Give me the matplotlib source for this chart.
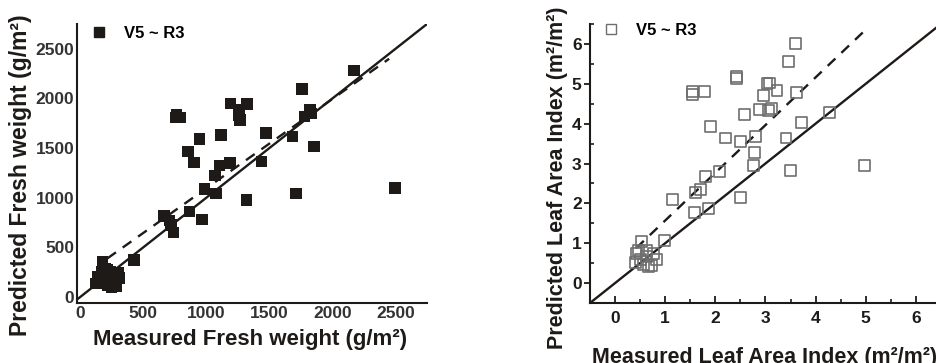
import matplotlib
matplotlib.use("Agg")
import matplotlib.pyplot as plt
import numpy as np
from matplotlib.lines import Line2D

plt.rcParams['font.family'] = ['Liberation Sans', 'DejaVu Sans']
plt.rcParams['font.weight'] = 'bold'

# ---------------- data: fresh weight (g/m2) ----------------
fw_measured = [2497, 2170, 1759, 1712, 1685, 1855, 1777, 1829, 1822, 1475, 1436, 1318,
               1323, 1192, 1260, 1266, 1260, 1187, 1116, 1103, 1069, 1077, 988, 967,
               946, 904, 854, 865, 755, 794, 762, 663, 710, 721, 741, 427,
               178, 126, 218, 150, 170, 190, 200, 210, 220, 230, 240, 250, 260, 270,
               280, 290, 300, 310, 290, 250, 140, 200]
fw_predicted = [1096, 2281, 2097, 1045, 1616, 1515, 1817, 1851, 1885, 1650, 1364, 978,
                1945, 1952, 1885, 1784, 1835, 1348, 1633, 1324, 1223, 1045, 1086, 783,
                1590, 1354, 1465, 860, 1811, 1811, 1834, 817, 769, 726, 648, 373,
                356, 138, 272, 170, 250, 230, 200, 160, 120, 210, 260, 180, 130, 230,
                200, 150, 240, 190, 110, 100, 200, 290]

# ---------------- data: leaf area index (m2/m2) ----------------
lai_measured = [3.59, 3.46, 2.43, 2.43, 1.54, 1.54, 1.78, 3.03, 3.08, 2.97, 3.23, 3.61,
                2.88, 3.06, 3.12, 2.59, 1.90, 3.71, 4.28, 2.20, 2.51, 2.81, 3.41, 2.79,
                2.77, 3.49, 4.98, 2.08, 1.80, 1.71, 1.60, 1.14, 2.50, 1.58, 1.86, 0.98,
                0.53, 0.43, 0.40, 0.63, 0.76, 0.82, 0.73, 0.66, 0.50, 0.56, 0.63, 0.47]
lai_predicted = [6.02, 5.55, 5.14, 5.18, 4.81, 4.74, 4.81, 5.00, 5.02, 4.70, 4.83, 4.78,
                 4.35, 4.32, 4.39, 4.24, 3.93, 4.04, 4.29, 3.64, 3.55, 3.68, 3.64, 3.27,
                 2.95, 2.82, 2.95, 2.81, 2.67, 2.35, 2.27, 2.10, 2.15, 1.78, 1.88, 1.06,
                 1.04, 0.75, 0.52, 0.81, 0.75, 0.60, 0.45, 0.41, 0.60, 0.47, 0.66, 0.82]

legend_label = "V5 ~ R3"

# fitted / reference lines: (slope, intercept, x_start, x_end)
fw_one_to_one = (1.0, 0.0, -60, 2800)
fw_fit = (0.90, 195, 215, 2450)
lai_one_to_one = (1.0, 0.0, -0.6, 7.0)
lai_fit = (1.197, 0.373, 0.42, 5.0)

fw_xticks = [0, 500, 1000, 1500, 2000, 2500]
fw_yticks = [0, 500, 1000, 1500, 2000, 2500]
lai_ticks = [0, 1, 2, 3, 4, 5, 6]

INK = '#1e1a18'
W, H = 936, 363
fig = plt.figure(figsize=(W / 100, H / 100), dpi=100)


def px_rect(l, t, r, b):
    return [l / W, 1 - b / H, (r - l) / W, (b - t) / H]


def line_xy(p):
    s, c, x0, x1 = p
    xs = np.array([x0, x1], dtype=float)
    return xs, s * xs + c


# ---------------- left panel ----------------
ax1 = fig.add_axes(px_rect(77, 24, 427, 303))
ax1.scatter(fw_measured, fw_predicted, marker='s', s=68, color=INK,
            edgecolors='none', zorder=3, label=legend_label)
x, y = line_xy(fw_one_to_one)
ax1.plot(x, y, color=INK, lw=1.7, zorder=2)
x, y = line_xy(fw_fit)
ax1.plot(x, y, color=INK, lw=1.7, ls=(0, (4.5, 3.5)), zorder=2)
ax1.set_xlim(-25, 2750)
ax1.set_ylim(-60, 2750)
ax1.set_xticks(fw_xticks)
ax1.set_yticks(fw_yticks)
ax1.tick_params(length=0, labelsize=12.5, colors='#333333', pad=2)
for s in ['top', 'right']:
    ax1.spines[s].set_visible(False)
for s in ['left', 'bottom']:
    ax1.spines[s].set_linewidth(1.5)
    ax1.spines[s].set_color(INK)
h1 = Line2D([], [], marker='s', ls='none', color=INK, markersize=7)
ax1.legend([h1], [legend_label], loc='upper left', bbox_to_anchor=(-0.018, 1.035),
           frameon=False, fontsize=12, handletextpad=0.5, borderaxespad=0.3)

# ---------------- right panel ----------------
ax2 = fig.add_axes(px_rect(590, 24, 966, 303))
ax2.scatter(lai_measured, lai_predicted, marker='s', s=62, facecolors='none',
            edgecolors='#6e6e6e', linewidths=1.2, zorder=3)
x, y = line_xy(lai_one_to_one)
ax2.plot(x, y, color=INK, lw=1.7, zorder=2)
x, y = line_xy(lai_fit)
ax2.plot(x, y, color=INK, lw=1.7, ls=(0, (4.5, 3.5)), zorder=2)
ax2.set_xlim(-0.5, 7.0)
ax2.set_ylim(-0.5, 6.5)
ax2.set_xticks(lai_ticks)
ax2.set_yticks(lai_ticks)
ax2.set_xticks(np.arange(-0.5, 7.0, 1.0), minor=True)
ax2.set_yticks(np.arange(-0.5, 6.6, 1.0), minor=True)
ax2.tick_params(axis='x', which='major', direction='in', length=5, width=1.3,
                labelsize=12.5, colors=INK, pad=6)
ax2.tick_params(axis='x', which='minor', direction='in', length=3, width=1.2, colors=INK)
ax2.tick_params(axis='y', which='major', direction='out', length=4, width=1.3,
                labelsize=12.5, colors=INK, pad=2)
ax2.tick_params(axis='y', which='minor', direction='in', length=3, width=1.2, colors=INK)
for s in ['top', 'right']:
    ax2.spines[s].set_visible(False)
for s in ['left', 'bottom']:
    ax2.spines[s].set_linewidth(1.5)
    ax2.spines[s].set_color(INK)
h2 = Line2D([], [], marker='s', ls='none', markerfacecolor='none',
            markeredgecolor='#6e6e6e', markeredgewidth=1.0, markersize=7)
ax2.legend([h2], [legend_label], loc='upper left', bbox_to_anchor=(-0.02, 1.045),
           frameon=False, fontsize=12, handletextpad=0.5, borderaxespad=0.3)

# ---------------- axis titles ----------------
fig.text(250 / W, 1 - 340 / H, "Measured Fresh weight (g/m²)", ha='center', va='center',
         fontsize=16, fontweight='bold', color=INK)
fig.text(21 / W, 1 - 175 / H, "Predicted Fresh weight (g/m²)", ha='center', va='center',
         rotation=90, fontsize=16.5, fontweight='bold', color=INK)
fig.text(558 / W, 1 - 178 / H, "Predicted Leaf Area Index (m²/m²)", ha='center', va='center',
         rotation=90, fontsize=15.5, fontweight='bold', color=INK)
fig.text(765 / W, 1 - 358 / H, "Measured Leaf Area Index (m²/m²)", ha='center', va='center',
         fontsize=15.5, fontweight='bold', color=INK)

fig.savefig("out.png", dpi=100)
